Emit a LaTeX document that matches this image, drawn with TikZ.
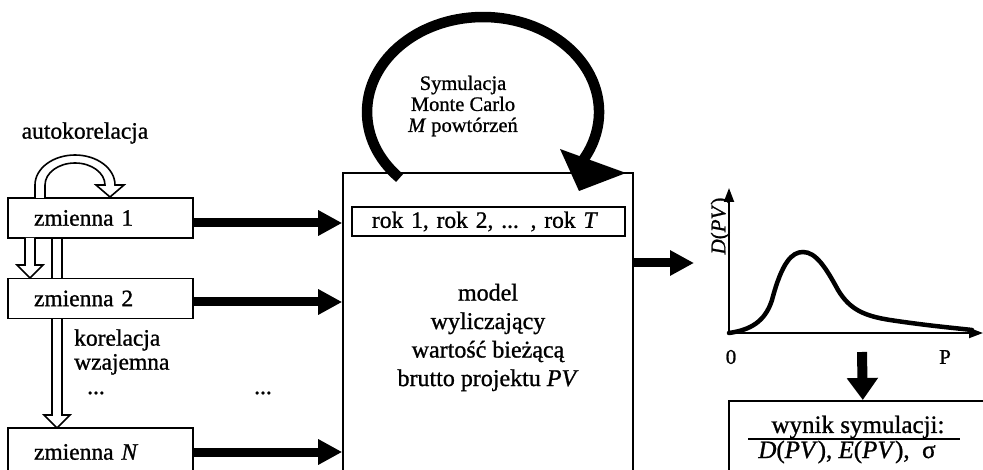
\documentclass[tikz,border=0pt]{standalone}
\usepackage{fontspec}
\setmainfont{Liberation Serif}[FakeBold=1]
\usetikzlibrary{arrows.meta,calc,backgrounds}
\newcommand\fntA{\fontsize{23.5}{28}\selectfont}
\newcommand\fntK{\fontsize{23.5}{24}\selectfont}
\newcommand\fntB{\fontsize{24}{28.5}\selectfont}
\newcommand\fntC{\fontsize{20.5}{21}\selectfont}
\newcommand\fntD{\fontsize{21}{24}\selectfont}
\newcommand\fntE{\fontsize{25}{28}\selectfont}
\newcommand\hdown[3]{\draw[hollow] (#1-5,#2) -- (#1-5,#3-13) -- (#1-13,#3-13) -- (#1,#3) -- (#1+13,#3-13) -- (#1+5,#3-13) -- (#1+5,#2);}
\begin{document}
\begin{tikzpicture}[x=1pt,y=-1pt,
  box/.style={draw, line width=1.6pt, fill=white, inner sep=0pt},
  varbox/.style={box, minimum width=185pt, minimum height=40pt, text width=133pt, inner xsep=26pt, align=left, font=\fntA},
  fat/.style={line width=9pt, -{Triangle[length=24pt,width=24pt]}},
  fatdown/.style={line width=10pt, -{Triangle[length=22pt,width=30pt]}},
  axis/.style={line width=2pt, -{Triangle[length=14pt,width=10pt]}},
  hollow/.style={draw, fill=white, line width=1.6pt, line join=miter},
  lbl/.style={inner sep=0pt}]
\path[use as bounding box, clip] (0,0) rectangle (983,470);

% hollow arrow behind zmienna 2
\begin{pgfonlayer}{background}
\hdown{57}{238}{428}
\end{pgfonlayer}

% variable boxes
\node[varbox] (z1) at (100.5,218) {zmienna 1};
\node[varbox] (z2) at (100.5,298.5) {zmienna 2};
\node[varbox, minimum height=48pt] (zN) at (100.5,452) {zmienna \textit{N}};

% model box
\node[box, minimum width=290pt, minimum height=329pt, align=center, font=\fntB] (model) at (488,337.5)
  {model\\wyliczający\\wartość bieżącą\\brutto projektu \textit{PV}};
\node[box, minimum width=273pt, minimum height=29pt, text width=233pt, inner xsep=20pt, align=left, font=\fntA] (rok) at (488.5,221.5)
  {rok 1, rok 2, ... , rok \textit{T}};

% labels
\node[lbl, font=\fntC, align=center] (sym) at (463,106) {Symulacja\\Monte Carlo\\\textit{M} powtórzeń};
\node[lbl, font=\fntA] (auto) at (85,133) {autokorelacja};
\node[lbl, font=\fntK, align=left, anchor=west] (kor) at (74,352) {korelacja\\wzajemna};
\node[lbl, font=\fntA] (d1) at (96,393) {...};
\node[lbl, font=\fntA] (d2) at (263,393) {...};

% arrows into model
\draw[fat] ($(z1.east)+(0,5)$) coordinate (a1) -- (a1 -| model.west);
\draw[fat] ($(z2.east)+(0,3.5)$) coordinate (a2) -- (a2 -| model.west);
\draw[fat] (zN.east) -- (zN.east -| model.west);

% hollow arrows
\hdown{30}{238}{278}
\draw[hollow] (35,198) -- (35,185) arc[start angle=180, end angle=360, x radius=40, y radius=30]
  -- (124,185) -- (110,197) -- (96,185) -- (105,185)
  arc[start angle=360, end angle=180, x radius=30, y radius=22] -- (45,198);

% Monte Carlo loop
\draw[line width=10.5pt] (399.6,178) arc[start angle=136, end angle=390, x radius=116, y radius=95];
\fill (560,149) -- (626,173) -- (579,191) -- cycle;

% graph
\coordinate (gin) at (694,263);
\draw[fat] (model.east |- gin) -- (gin);
\coordinate (O) at (729,333);
\coordinate (Ytop) at (729,188);
\coordinate (Xend) at (983,333);
\draw[axis] (O) -- (Ytop);
\draw[axis] (O) -- (Xend);
\draw[line width=4.5pt, line cap=round] (O) .. controls (750,330) and (765,322) .. (772,300)
  .. controls (782,262) and (792,252) .. (803,252)
  .. controls (816,252) and (826,268) .. (838,290)
  .. controls (850,310) and (865,316) .. (890,320)
  .. controls (930,326) and (955,328) .. (972,330);
\node[lbl, font=\fntD, rotate=90, anchor=south] (dpv) at (730,226) {\textit{D}(\textit{PV})};
\node[lbl, font=\fntD] (zero) at (731,357) {0};
\node[lbl, font=\fntD] (pp) at (945,357) {P};

% result
\node[box, minimum width=268pt, minimum height=90pt, anchor=north west] (res) at (728,400) {};
\coordinate (dtop) at (862,352);
\draw[fatdown] (dtop) -- (res.north);
\node[lbl, font=\fntE] (w1) at (858,427) {wynik symulacji:};
\node[lbl, font=\fntE] (w2) at (847,452) {\textit{D}(\textit{PV}), \textit{E}(\textit{PV}),~ σ};
\draw[line width=2pt] (748,439) -- (960,439);
\end{tikzpicture}
\end{document}
